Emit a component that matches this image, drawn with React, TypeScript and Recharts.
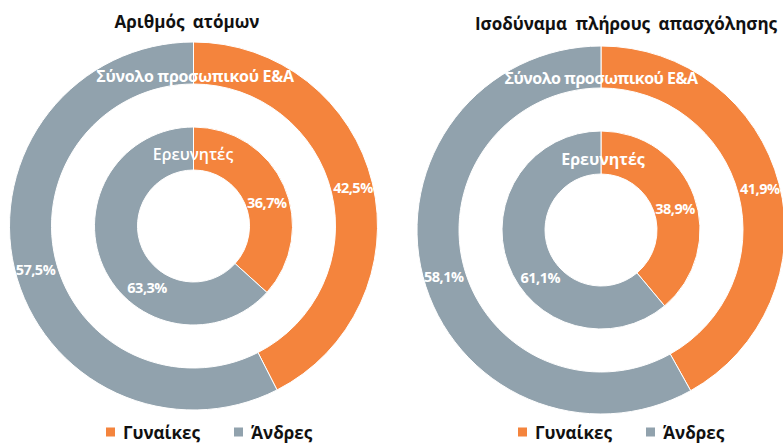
import { Pie, PieChart, Cell } from "recharts";

const SERIES = ["Γυναίκες", "Άνδρες"];
const COLORS = ["#f4843d", "#91a2ad"];

const TITLES = ["Αριθμός ατόμων", "Ισοδύναμα πλήρους απασχόλησης"];
const RING_NAMES = ["Σύνολο προσωπικού Ε&Α", "Ερευνητές"];

// Αριθμός ατόμων
const headcountTotal = [42.5, 57.5];
const headcountResearchers = [36.7, 63.3];
// Ισοδύναμα πλήρους απασχόλησης
const fteTotal = [41.9, 58.1];
const fteResearchers = [38.9, 61.1];

const toRows = (vals: number[]) => vals.map((v, i) => ({ name: SERIES[i], value: v }));

const RAD = Math.PI / 180;
const font = "'Open Sans', 'Noto Sans', sans-serif";

// label placement per ring: radius + angle nudge per slice
function makeLabel(r: number, shift: number[]) {
  return (props: any) => {
    const { cx, cy, midAngle, value, index } = props;
    const a = (midAngle + (shift[index] ?? 0)) * RAD;
    const x = cx + r * Math.cos(-a);
    const y = cy + r * Math.sin(-a);
    return (
      <text
        x={x}
        y={y}
        fill="#fff"
        fontSize={14.5}
        fontWeight={700}
        fontFamily={font}
        textAnchor="middle"
        dominantBaseline="central"
        letterSpacing={-0.5}
      >
        {value.toFixed(1).replace(".", ",")}%
      </text>
    );
  };
}

const groups = [
  { cx: 193.5, cy: 226, total: headcountTotal, res: headcountResearchers, innerShift: [-6, 29] },
  { cx: 601, cy: 230, total: fteTotal, res: fteResearchers, innerShift: [-4, 18] },
];

const abs = (x: number, y: number, extra: React.CSSProperties = {}): React.CSSProperties => ({
  position: "absolute",
  left: x,
  top: y,
  transform: "translate(-50%, -50%)",
  whiteSpace: "nowrap",
  fontFamily: font,
  fontWeight: 700,
  lineHeight: 1.2,
  ...extra,
});

function LegendRow({ x, y }: { x: number; y: number }) {
  return (
    <div
      style={{
        position: "absolute",
        left: x,
        top: y,
        transform: "translateY(-50%)",
        display: "flex",
        alignItems: "center",
        fontFamily: font,
        fontWeight: 700,
        fontSize: 17,
        lineHeight: 1,
        color: "#111",
      }}
    >
      {SERIES.map((s, i) => (
        <div key={s} style={{ display: "flex", alignItems: "center", marginRight: 34 }}>
          <span style={{ width: 9, height: 9, background: COLORS[i], marginRight: 8 }} />
          <span>{s}</span>
        </div>
      ))}
    </div>
  );
}

export default function App() {
  return (
    <div style={{ position: "absolute", left: 0, top: 0, width: 783, height: 443, overflow: "hidden", background: "#fff" }}>
      <PieChart width={783} height={443} margin={{ top: 0, right: 0, bottom: 0, left: 0 }}>
        {groups.map((g, gi) => [
          <Pie
            key={`o${gi}`}
            data={toRows(g.total)}
            dataKey="value"
            nameKey="name"
            cx={g.cx}
            cy={g.cy}
            innerRadius={142}
            outerRadius={184}
            startAngle={90}
            endAngle={-270}
            stroke="#fff"
            strokeWidth={1}
            labelLine={false}
            label={makeLabel(164, [0, 2])}
            isAnimationActive={false}
          >
            {g.total.map((_, i) => (
              <Cell key={i} fill={COLORS[i]} />
            ))}
          </Pie>,
          <Pie
            key={`i${gi}`}
            data={toRows(g.res)}
            dataKey="value"
            nameKey="name"
            cx={g.cx}
            cy={g.cy}
            innerRadius={56}
            outerRadius={99}
            startAngle={90}
            endAngle={-270}
            stroke="#fff"
            strokeWidth={1}
            labelLine={false}
            label={makeLabel(77, g.innerShift)}
            isAnimationActive={false}
          >
            {g.res.map((_, i) => (
              <Cell key={i} fill={COLORS[i]} />
            ))}
          </Pie>,
        ])}
      </PieChart>

      <div style={abs(187, 22, { fontSize: 17, color: "#111", wordSpacing: 4 })}>{TITLES[0]}</div>
      <div style={abs(626, 24, { fontSize: 17, color: "#111", wordSpacing: 4 })}>{TITLES[1]}</div>

      <div style={abs(195, 77, { fontSize: 16, color: "#fff", letterSpacing: -0.3 })}>{RING_NAMES[0]}</div>
      <div style={abs(601, 79, { fontSize: 16, color: "#fff", letterSpacing: -0.5 })}>{RING_NAMES[0]}</div>
      <div style={abs(193, 155, { fontSize: 16, color: "#fff", fontWeight: 600 })}>{RING_NAMES[1]}</div>
      <div style={abs(603, 160, { fontSize: 16, color: "#fff", fontWeight: 700 })}>{RING_NAMES[1]}</div>

      <LegendRow x={106} y={432} />
      <LegendRow x={518} y={432} />
    </div>
  );
}
